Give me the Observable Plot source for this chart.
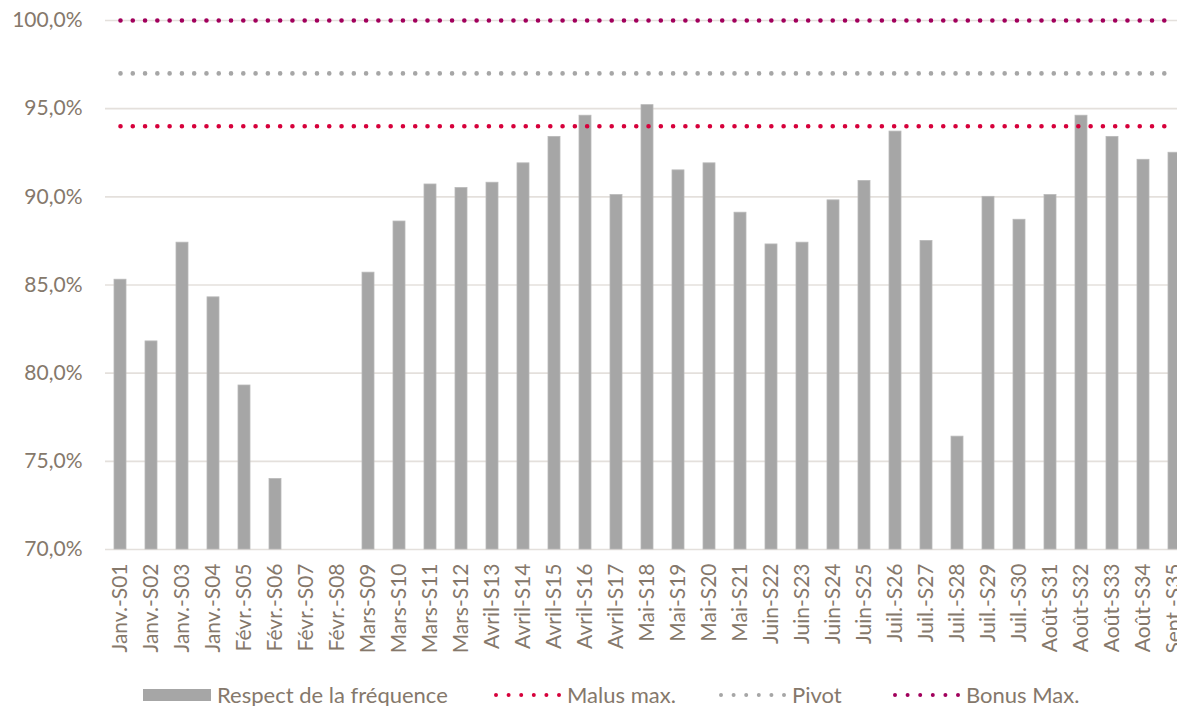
<!DOCTYPE html>
<html><head><meta charset="utf-8">
<script src="https://cdn.jsdelivr.net/npm/d3@7"></script>
<script src="https://cdn.jsdelivr.net/npm/@observablehq/plot@0.6"></script>
<style>
html,body{margin:0;padding:0;background:#fff;overflow:hidden;width:1177px;height:706px}
#chart{position:relative;width:1177px;height:706px;overflow:hidden}
#chart svg{display:block}
.legend{position:absolute;top:682px;left:0;width:1177px;height:24px;font-family:Lato,sans-serif;font-size:22px;color:#85786b}
.item{position:absolute;top:0;display:flex;align-items:center;white-space:nowrap;height:24px}
.item svg{margin-right:6px}
</style></head><body><div id="chart"></div>
<script>
const weeks = ["Janv.-S01","Janv.-S02","Janv.-S03","Janv.-S04","Févr.-S05","Févr.-S06","Févr.-S07","Févr.-S08",
  "Mars-S09","Mars-S10","Mars-S11","Mars-S12","Avril-S13","Avril-S14","Avril-S15","Avril-S16","Avril-S17",
  "Mai-S18","Mai-S19","Mai-S20","Mai-S21","Juin-S22","Juin-S23","Juin-S24","Juin-S25","Juil.-S26","Juil.-S27",
  "Juil.-S28","Juil.-S29","Juil.-S30","Août-S31","Août-S32","Août-S33","Août-S34","Sept.-S35"];
const respect = [85.3,81.8,87.4,84.3,79.3,74.0,null,null,85.7,88.6,90.7,90.5,90.8,91.9,93.4,94.6,90.1,
  95.2,91.5,91.9,89.1,87.3,87.4,89.8,90.9,93.7,87.5,76.4,90.0,88.7,90.1,94.6,93.4,92.1,92.5];
const malusMax = 94;
const pivot = 97;
const bonusMax = 100;
const yDomain = [70, 100];
const yTicks = [70, 75, 80, 85, 90, 95, 100];
const seriesNames = ["Respect de la fréquence", "Malus max.", "Pivot", "Bonus Max."];
const colors = {bar: "#a6a6a6", malus: "#d6003b", pivot: "#a6a6a6", bonus: "#a1005c"};

const bars = weeks.map((w, i) => ({week: w, value: respect[i]})).filter(d => d.value != null);
const fmt = v => v.toFixed(1).replace(".", ",") + "%";
const dotted = (value, color) => Plot.lineY(weeks, {
  x: d => d, y: () => value, stroke: color, strokeWidth: 4.6,
  strokeDasharray: "0 12.28", strokeLinecap: "round"
});

const chart = Plot.plot({
  width: 1177, height: 680,
  marginLeft: 105, marginRight: 0, marginTop: 20, marginBottom: 131,
  style: {fontFamily: "Lato, sans-serif", fontSize: "21px", color: "#85786b", background: "transparent", overflow: "visible"},
  x: {domain: weeks, range: [105, 1190], paddingInner: 0.6, paddingOuter: 0.3, label: null,
      tickSize: 0, tickPadding: 14, tickRotate: -90},
  y: {domain: yDomain, ticks: yTicks, tickFormat: fmt, label: null, tickSize: 0, tickPadding: 23},
  marks: [
    Plot.ruleY(yTicks, {stroke: "#e4e0dc", strokeWidth: 1.6}),
    Plot.barY(bars, {x: "week", y1: yDomain[0], y2: "value", fill: colors.bar, stroke: "#b9b9b9", strokeWidth: 0.8}),
    dotted(malusMax, colors.malus),
    dotted(pivot, colors.pivot),
    dotted(bonusMax, colors.bonus)
  ]
});
const root = document.getElementById("chart");
root.appendChild(chart);

const legend = document.createElement("div");
legend.className = "legend";
const lefts = [143, 493, 718, 892];
const swatchColors = [null, colors.malus, colors.pivot, colors.bonus];
seriesNames.forEach((name, i) => {
  const it = document.createElement("div");
  it.className = "item";
  it.style.left = lefts[i] + "px";
  let sw;
  if (i === 0) {
    sw = `<svg width="68" height="24"><rect x="0" y="7" width="68" height="12" fill="${colors.bar}"/></svg>`;
  } else {
    sw = `<svg width="68" height="24"><line x1="3" x2="67" y1="13" y2="13" stroke="${swatchColors[i]}" stroke-width="4" stroke-linecap="round" stroke-dasharray="0 12.6"/></svg>`;
  }
  it.innerHTML = sw + `<span>${name}</span>`;
  legend.appendChild(it);
});
root.appendChild(legend);
</script>
</body></html>
